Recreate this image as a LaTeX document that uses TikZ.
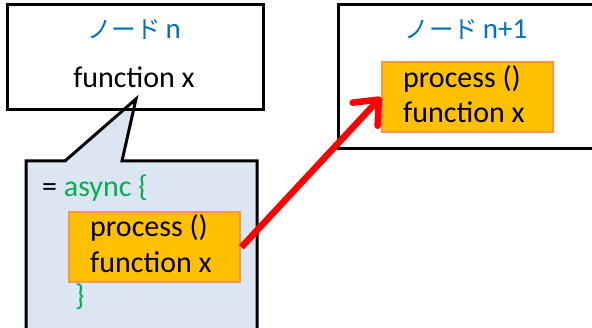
\documentclass[tikz,border=0pt]{standalone}
\usepackage{fontspec}
\setmainfont{Carlito}
\newfontfamily\jpfont{Noto Sans CJK JP}
\usetikzlibrary{arrows.meta}
\definecolor{hdblue}{HTML}{0070C0}
\definecolor{kwgreen}{HTML}{00B050}
\definecolor{calloutfill}{HTML}{DCE6F2}
\definecolor{procfill}{HTML}{FFC000}
\definecolor{procedge}{HTML}{F79646}
\tikzset{
  nodebox/.style={draw=black, line width=3pt},
  procbox/.style={draw=procedge, fill=procfill, line width=2.4pt, minimum width=171pt, minimum height=70pt, anchor=north west, inner sep=0pt},
  txt/.style={inner sep=0pt, anchor=base west, font=\fontsize{30}{36}\selectfont},
  hd/.style={inner sep=0pt, anchor=base, text=hdblue, font=\fontsize{29}{35}\selectfont},
}
\begin{document}
\begin{tikzpicture}[x=1pt,y=-1pt]
\useasboundingbox (0,0) rectangle (592,328);
% speech bubble hanging from node n: fill first
\fill[calloutfill] (26,161) -- (65,161) -- (136,99) -- (122,161) -- (257,161) -- (257,345) -- (26,345) -- cycle;
% node n box interior
\fill[white] (7,5) rectangle (263,110);
% bubble outline
\draw[line width=3pt, line join=miter] (26,345) -- (26,161) -- (65,161) -- (136,99) -- (122,161) -- (257,161) -- (257,345);
% node n
\draw[nodebox] (7,5) rectangle (263,110);
\node[hd] (hdn) at (134,39) {{\jpfont\fontsize{24.5}{29}\selectfont ノード}\,n};
\node[txt, anchor=base] (fnx) at (134,88) {function x};
% node n+1
\draw[nodebox] (338,5) rectangle (610,149);
\node[hd] (hdn1) at (466,39) {{\jpfont\fontsize{24.5}{29}\selectfont ノード}\,n+1};
\node[procbox] (rproc) at (381,61) {};
\node[txt] (rp1) at (403,88) {process ()};
\node[txt] (rp2) at (403,123) {function x};
% async block inside the bubble
\node[txt] (async) at (42,197) {= \textcolor{kwgreen}{async \{}};
\node[procbox] (lproc) at (68,211) {};
\node[txt] (lp1) at (90,237) {process ()};
\node[txt] (lp2) at (90,273) {function x};
\node[txt, text=kwgreen] (close) at (75,306) {\}};
% transfer arrow
\draw[red, line width=6.5pt, -{Straight Barb[length=20pt, width=34pt, line width=6.5pt, line cap=round, line join=round]}] (lproc.east) -- (rproc.west);
\end{tikzpicture}
\end{document}
